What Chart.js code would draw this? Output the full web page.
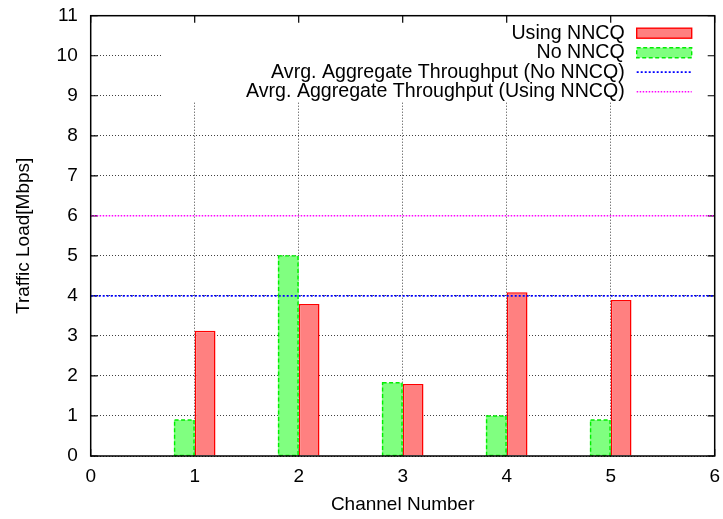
<!DOCTYPE html>
<html>
<head>
<meta charset="utf-8">
<style>
  html, body { margin: 0; padding: 0; background: #fff; }
  canvas { display: block; }
</style>
<script src="https://cdn.jsdelivr.net/npm/chart.js@4/dist/chart.umd.min.js"></script>
</head>
<body>
<canvas id="chart" width="723" height="519"></canvas>
<script>
// Per-channel traffic load, Mbps
const channels = [1, 2, 3, 4, 5];
const noNncq = [0.9, 5.0, 1.83, 1.0, 0.9];
const usingNncq = [3.13, 3.8, 1.8, 4.09, 3.9];

// Average aggregate throughput, Mbps
const avgNoNncq = 4;
const avgUsingNncq = 6;

// Axis ranges
const xRange = [0, 6];
const yRange = [0, 11];

const seriesLabels = {
  using: 'Using NNCQ',
  no: 'No NNCQ',
  avgNo: 'Avrg. Aggregate Throughput (No NNCQ)',
  avgUsing: 'Avrg. Aggregate Throughput (Using NNCQ)'
};
const xTitle = 'Channel Number';
const yTitle = 'Traffic Load[Mbps]';

const FONT = "'Liberation Sans', Arial, Helvetica, sans-serif";
const FONT_SIZE = 19;
const KEY_FONT_SIZE = 19.6;

const toPoints = (xs, ys) => xs.map((x, i) => ({ x, y: ys[i] }));
const flatLine = v => [{ x: xRange[0], y: v }, { x: xRange[1], y: v }];

// key entries, top to bottom (dataset indices)
const keyOrder = [1, 0, 2, 3];

const gnuplotStyle = {
  id: 'gnuplotStyle',
  beforeDatasetsDraw(chart) {
    const { ctx, chartArea: a, scales: { x, y } } = chart;
    ctx.save();
    // opaque key background hides the grid behind it
    ctx.fillStyle = '#fff';
    ctx.fillRect(a.left + 72, a.top, a.right - a.left - 72, 86);
    // inward tick marks on all four sides
    ctx.strokeStyle = '#000';
    ctx.lineWidth = 1.2;
    ctx.beginPath();
    y.ticks.forEach(t => {
      const py = y.getPixelForValue(t.value);
      ctx.moveTo(a.left, py); ctx.lineTo(a.left + 7, py);
      ctx.moveTo(a.right, py); ctx.lineTo(a.right - 7, py);
    });
    x.ticks.forEach(t => {
      const px = x.getPixelForValue(t.value);
      ctx.moveTo(px, a.bottom); ctx.lineTo(px, a.bottom - 7);
      ctx.moveTo(px, a.top); ctx.lineTo(px, a.top + 7);
    });
    ctx.stroke();
    ctx.restore();
  },
  afterDatasetsDraw(chart) {
    const { ctx, chartArea: a } = chart;
    const ds = chart.data.datasets;
    ctx.save();

    // dashed outline for the "No NNCQ" bars
    const meta = chart.getDatasetMeta(0);
    ctx.strokeStyle = ds[0].outlineColor;
    ctx.lineWidth = 1.4;
    ctx.setLineDash([4, 2.5]);
    meta.data.forEach(bar => {
      const { x, y, base, width } = bar.getProps(['x', 'y', 'base', 'width'], true);
      ctx.strokeRect(x - width / 2 + 0.7, y, width - 1.4, base - y);
    });
    ctx.setLineDash([]);

    // plot border
    ctx.strokeStyle = '#000';
    ctx.lineWidth = 1.5;
    ctx.strokeRect(a.left, a.top, a.right - a.left, a.bottom - a.top);

    // key
    const textRight = a.right - 90;
    const sampleLeft = a.right - 78;
    const sampleRight = a.right - 23;
    ctx.font = `${KEY_FONT_SIZE}px ${FONT}`;
    ctx.textAlign = 'right';
    ctx.textBaseline = 'middle';
    keyOrder.forEach((di, row) => {
      const d = ds[di];
      const cy = a.top + 17.5 + row * 19.5;
      ctx.fillStyle = '#000';
      ctx.fillText(d.label, textRight, cy);
      if (d.type === 'line') {
        ctx.strokeStyle = d.borderColor;
        ctx.lineWidth = d.borderWidth;
        ctx.setLineDash(d.borderDash);
        ctx.beginPath();
        ctx.moveTo(sampleLeft, cy);
        ctx.lineTo(sampleRight, cy);
        ctx.stroke();
        ctx.setLineDash([]);
      } else {
        ctx.fillStyle = d.backgroundColor;
        ctx.fillRect(sampleLeft, cy - 5, sampleRight - sampleLeft, 10);
        ctx.strokeStyle = d.outlineColor || d.borderColor;
        ctx.lineWidth = 1.4;
        ctx.setLineDash(d.outlineColor ? [4, 2.5] : []);
        ctx.strokeRect(sampleLeft, cy - 5, sampleRight - sampleLeft, 10);
        ctx.setLineDash([]);
      }
    });
    ctx.restore();
  }
};

const tickFont = { family: FONT, size: FONT_SIZE };

new Chart(document.getElementById('chart'), {
  type: 'bar',
  data: {
    datasets: [
      {
        label: seriesLabels.no,
        data: toPoints(channels, noNncq),
        backgroundColor: 'rgb(128,255,128)',
        outlineColor: 'rgb(0,238,0)',
        borderWidth: 0,
        order: 2
      },
      {
        label: seriesLabels.using,
        data: toPoints(channels, usingNncq),
        backgroundColor: 'rgb(255,128,128)',
        borderColor: 'rgb(255,0,0)',
        borderWidth: 1.5,
        borderSkipped: 'start',
        order: 2
      },
      {
        type: 'line',
        label: seriesLabels.avgNo,
        data: flatLine(avgNoNncq),
        borderColor: 'rgb(0,0,255)',
        borderWidth: 1.8,
        borderDash: [2, 2],
        pointRadius: 0,
        fill: false,
        order: 1
      },
      {
        type: 'line',
        label: seriesLabels.avgUsing,
        data: flatLine(avgUsingNncq),
        borderColor: 'rgb(255,0,255)',
        borderWidth: 1.5,
        borderDash: [1.5, 1.5],
        pointRadius: 0,
        fill: false,
        order: 1
      }
    ]
  },
  options: {
    responsive: false,
    animation: false,
    devicePixelRatio: 1,
    layout: { padding: { top: 15.7, right: 8.3, left: 0, bottom: 0 } },
    datasets: {
      bar: { categoryPercentage: 0.4, barPercentage: 1.0 }
    },
    plugins: {
      legend: { display: false },
      tooltip: { enabled: false }
    },
    scales: {
      x: {
        type: 'linear',
        min: xRange[0],
        max: xRange[1],
        offset: false,
        ticks: { stepSize: 1, padding: 9.3, color: '#000', font: tickFont },
        grid: { color: 'rgba(0,0,0,0.75)', lineWidth: 1, drawTicks: false, offset: false },
        border: { display: false, dash: [1, 2] },
        title: {
          display: true, text: xTitle, color: '#000', font: tickFont,
          padding: { top: 2, bottom: 2.5 }
        },
        afterFit(scale) {
          scale.height = 63;
          scale.paddingLeft = 0;
          scale.paddingRight = 0;
        }
      },
      y: {
        type: 'linear',
        min: yRange[0],
        max: yRange[1],
        ticks: { stepSize: 1, padding: 13, color: '#000', font: tickFont },
        grid: { color: 'rgba(0,0,0,0.75)', lineWidth: 1, drawTicks: false },
        border: { display: false, dash: [1, 2] },
        title: {
          display: true, text: yTitle, color: '#000', font: tickFont,
          padding: { top: 12, bottom: 0 }
        },
        afterFit(scale) {
          scale.width = 90.7;
          scale.paddingTop = 0;
          scale.paddingBottom = 0;
        }
      }
    }
  },
  plugins: [gnuplotStyle]
});
</script>
</body>
</html>
